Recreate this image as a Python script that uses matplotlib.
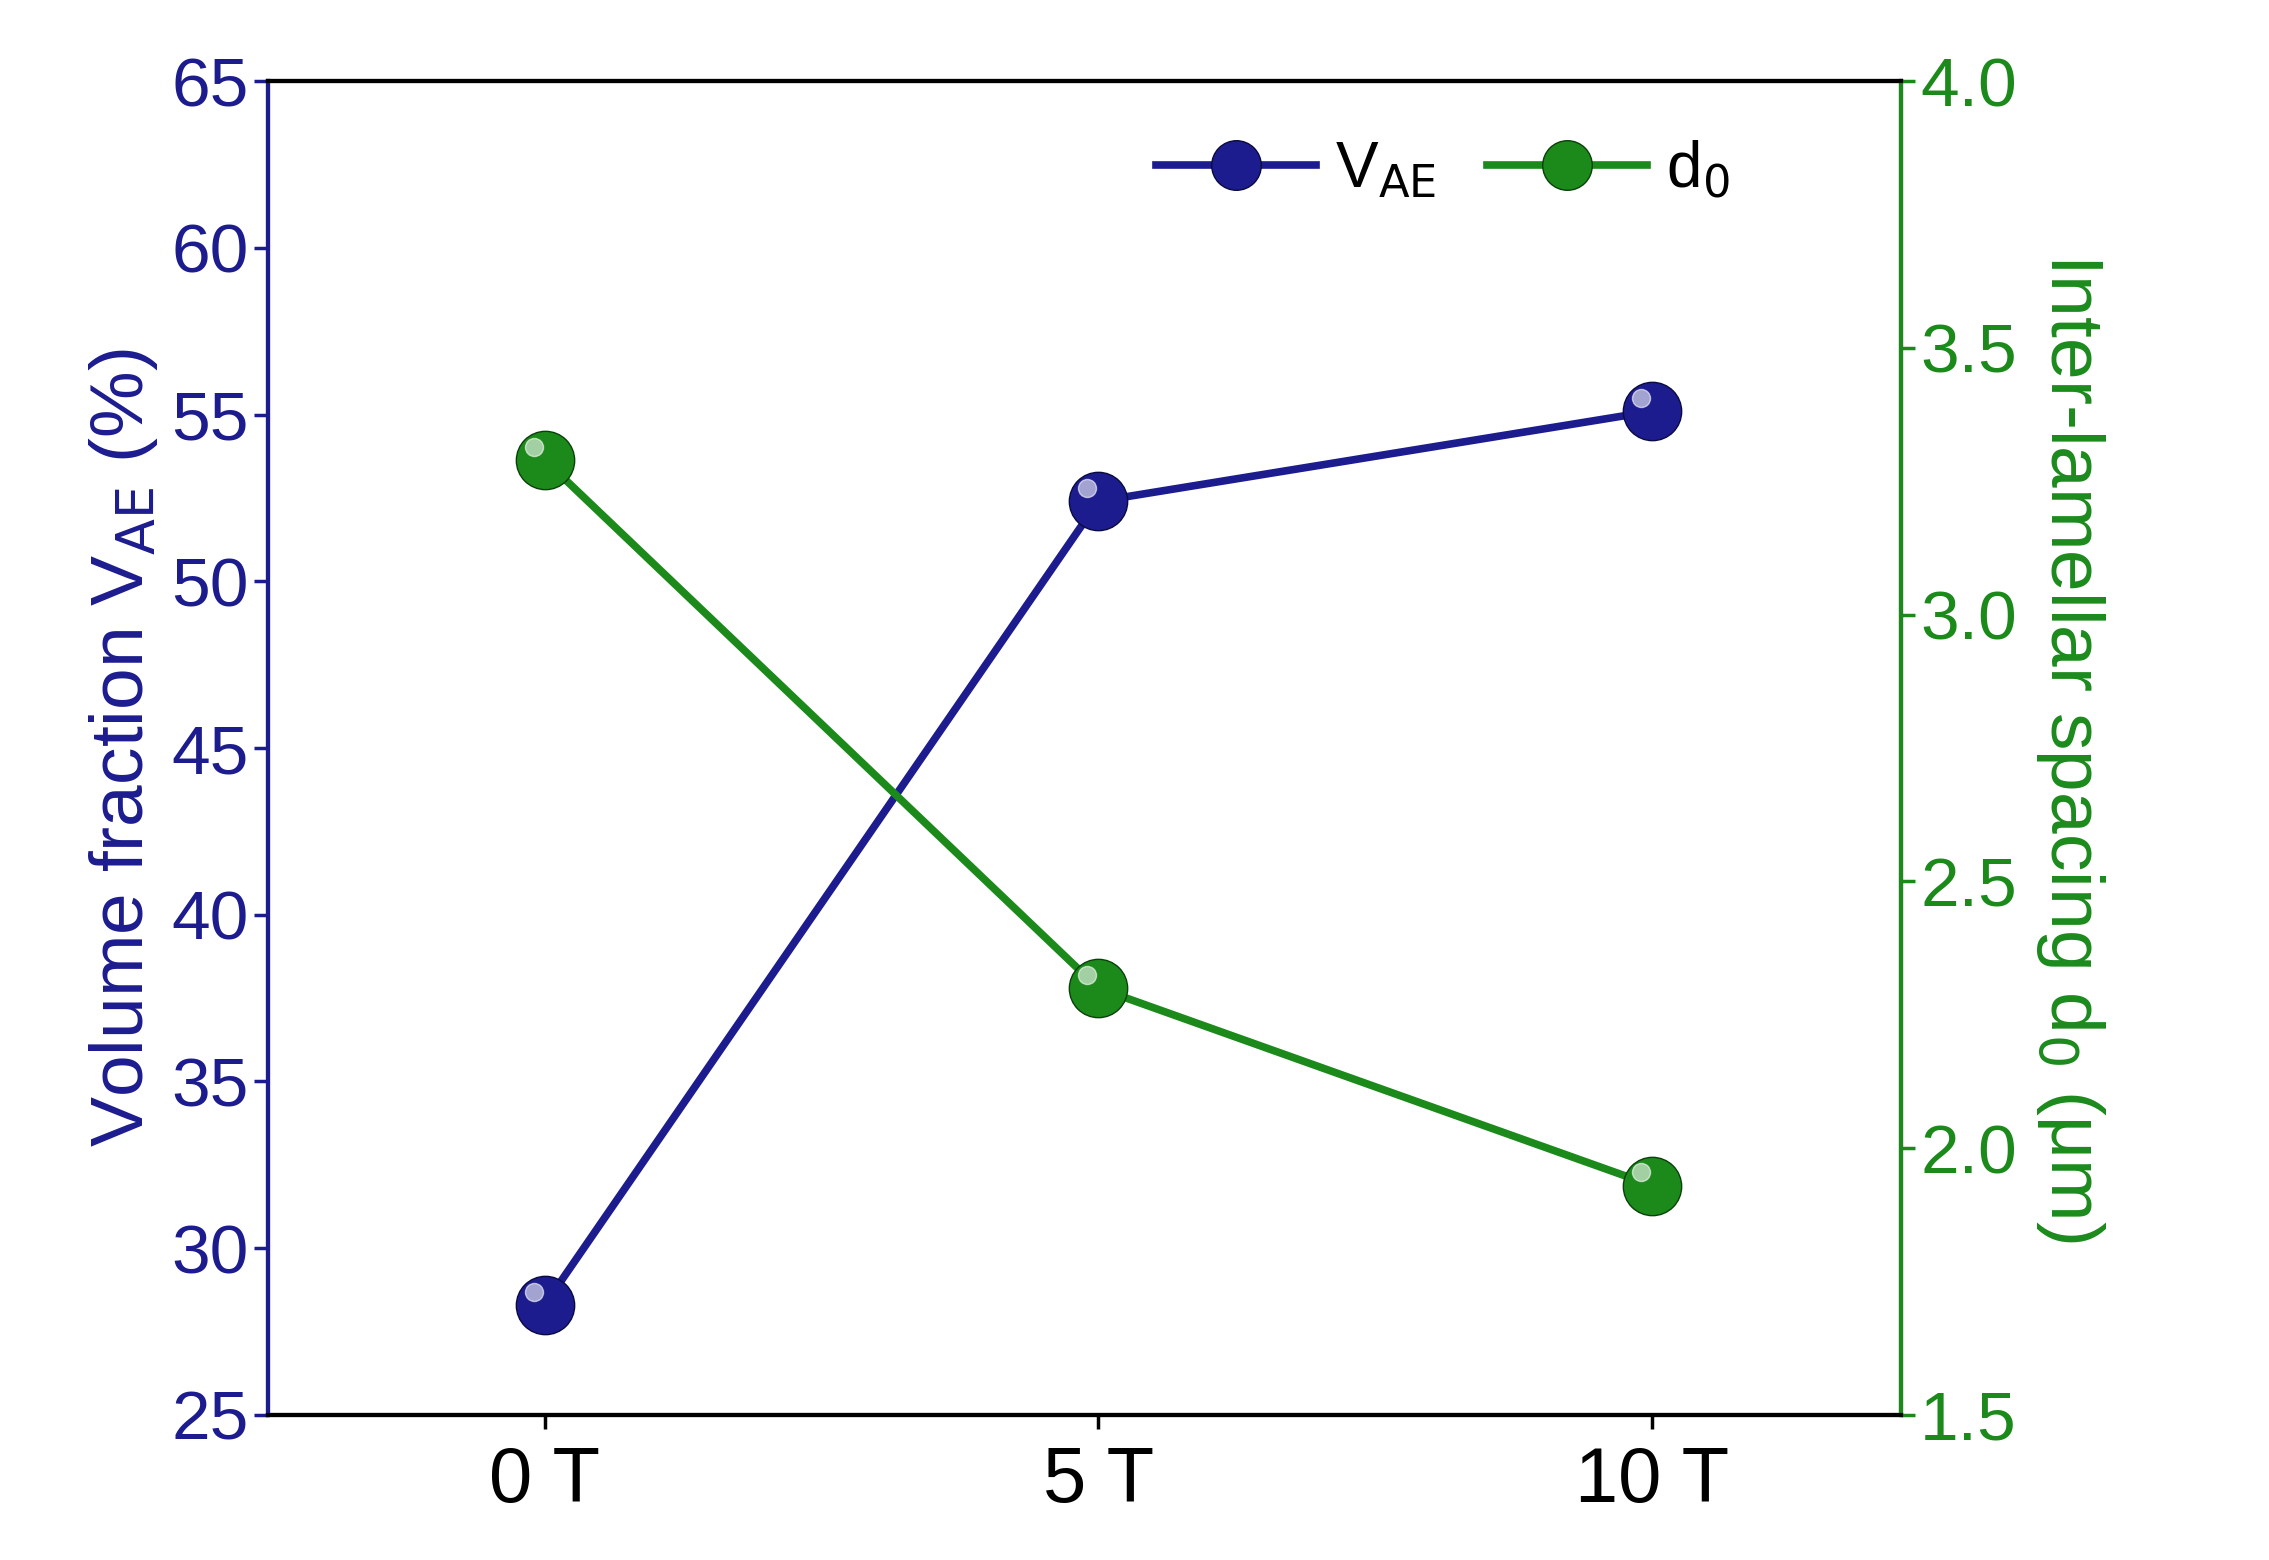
import matplotlib.pyplot as plt
import numpy as np

fields = ["0 T", "5 T", "10 T"]
vae = [28.3, 52.4, 55.1]
d0 = [3.29, 2.30, 1.93]

blue = "#1c1c8f"
green = "#1b8a1b"

plt.rcParams['font.family'] = ['Liberation Sans', 'DejaVu Sans']

fig = plt.figure(figsize=(22.69, 15.60), dpi=100)
ax = fig.add_axes([0.118, 0.093, 0.72, 0.855])
ax2 = ax.twinx()
x = np.arange(len(fields))

ax.plot(x, vae, "-", color=blue, lw=5.5, marker="o", ms=42, mfc=blue, mec="#0a0a40", label="V$_{\\mathrm{AE}}$")
ax.plot(x - 0.02, np.array(vae) + 0.4, "o", ms=13, color="white", alpha=0.6)
ax2.plot(x, d0, "-", color=green, lw=5.5, marker="o", ms=42, mfc=green, mec="#0a400a", label="d$_0$")
ax2.plot(x - 0.02, np.array(d0) + 0.025, "o", ms=13, color="white", alpha=0.6)

ax.set_xlim(-0.5, 2.45)
ax.set_ylim(25, 65)
ax2.set_ylim(1.5, 4.0)
ax.set_xticks(x)
ax.set_xticklabels(fields, fontsize=56)
ax.set_yticks(range(25, 66, 5))
ax2.set_yticks(np.arange(1.5, 4.01, 0.5))
ax.tick_params(axis='y', colors=blue, labelsize=50, width=2.5, length=10)
ax2.tick_params(axis='y', colors=green, labelsize=50, width=2.5, length=10)
ax.tick_params(axis='x', width=2.5, length=10, pad=12)
ax.spines['left'].set_color(blue)
ax2.spines['left'].set_color(blue)
ax2.spines['right'].set_color(green)
for s in list(ax.spines.values()) + list(ax2.spines.values()):
    s.set_linewidth(3)
ax.set_ylabel("Volume fraction V$_{\\mathrm{AE}}$ (%)", color=blue, fontsize=54, labelpad=8)
ax2.set_ylabel("Inter-lamellar spacing d$_0$ (μm)", color=green, fontsize=54, rotation=270, labelpad=65)

h1, l1 = ax.get_legend_handles_labels()
h2, l2 = ax2.get_legend_handles_labels()
ax.legend(h1 + h2, l1 + l2, loc="upper right", bbox_to_anchor=(0.93, 1.0), ncol=2, frameon=False,
          fontsize=46, handlelength=2.5, columnspacing=0.8, handletextpad=0.3, markerscale=0.85)

fig.savefig("out.png", dpi=100)
